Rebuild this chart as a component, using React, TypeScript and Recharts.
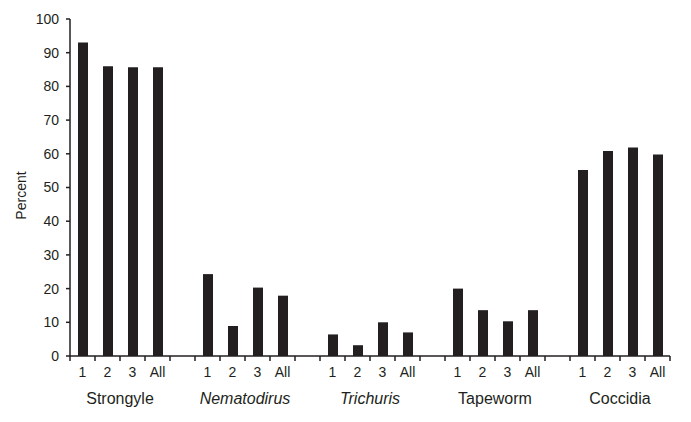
import { Bar, BarChart, XAxis, YAxis } from "recharts";

const groups = ["Strongyle", "Nematodirus", "Trichuris", "Tapeworm", "Coccidia"];
const italicGroups = ["Nematodirus", "Trichuris"];
const subLabels = ["1", "2", "3", "All"];

const strongyle = [93, 86, 85.7, 85.7];
const nematodirus = [24.3, 8.9, 20.3, 17.9];
const trichuris = [6.4, 3.2, 10, 7];
const tapeworm = [20, 13.6, 10.3, 13.6];
const coccidia = [55.2, 60.8, 61.9, 59.8];

const yTicks = [0, 10, 20, 30, 40, 50, 60, 70, 80, 90, 100];

const seriesByGroup = [strongyle, nematodirus, trichuris, tapeworm, coccidia];

type Row = { key: string; sub: string; group: string; value: number | null };

// 4 bars per group, then an empty slot as a spacer (not after the last group)
const rows: Row[] = [];
groups.forEach((g, gi) => {
  subLabels.forEach((s, si) => {
    rows.push({ key: `${g}-${s}`, sub: s, group: g, value: seriesByGroup[gi][si] });
  });
  if (gi < groups.length - 1) {
    rows.push({ key: `gap-${gi}`, sub: "", group: "", value: null });
  }
});

const INK = "#231f20";
const FONT = "'Liberation Sans', Arial, sans-serif";
const WIDTH = 691;
const HEIGHT = 422;
const MARGIN = { top: 19, right: 21, left: 0, bottom: 6 };
const Y_AXIS_W = 70;
const PLOT_W = WIDTH - MARGIN.left - MARGIN.right - Y_AXIS_W;
const SLOT = PLOT_W / rows.length;

function XTick(props: any) {
  const { x, y, index } = props;
  const row = rows[index];
  if (!row) return null;
  const half = SLOT / 2;
  const last = index === rows.length - 1;
  return (
    <g>
      <line x1={x - half} x2={x - half} y1={y} y2={y + 5} stroke={INK} strokeWidth={1.5} />
      {last && <line x1={x + half} x2={x + half} y1={y} y2={y + 5} stroke={INK} strokeWidth={1.5} />}
      <text x={x} y={y + 21} textAnchor="middle" fill={INK} fontSize={14} fontFamily={FONT}>
        {row.sub}
      </text>
      {row.sub === "2" && (
        <text
          x={x + half}
          y={y + 48}
          textAnchor="middle"
          fill={INK}
          fontSize={16}
          fontFamily={FONT}
          fontStyle={italicGroups.includes(row.group) ? "italic" : "normal"}
        >
          {row.group}
        </text>
      )}
    </g>
  );
}

function PercentLabel(props: any) {
  const { viewBox } = props;
  if (!viewBox) return null;
  const cx = viewBox.x + 21;
  const cy = viewBox.y + viewBox.height / 2 + 8;
  return (
    <text
      x={cx}
      y={cy}
      transform={`rotate(-90, ${cx}, ${cy})`}
      textAnchor="middle"
      dominantBaseline="central"
      fill={INK}
      fontSize={14}
      fontFamily={FONT}
    >
      Percent
    </text>
  );
}

export default function App() {
  return (
    <div style={{ position: "absolute", left: 0, top: 0, background: "#fff" }}>
      <BarChart width={WIDTH} height={HEIGHT} data={rows} margin={MARGIN}>
        <XAxis
          dataKey="key"
          height={60}
          interval={0}
          tickLine={false}
          tickSize={0}
          tickMargin={0}
          tick={<XTick />}
          axisLine={{ stroke: INK, strokeWidth: 1.5 }}
        />
        <YAxis
          width={Y_AXIS_W}
          domain={[0, 100]}
          ticks={yTicks}
          interval={0}
          tickSize={4}
          tickMargin={7}
          tickLine={{ stroke: INK, strokeWidth: 1.5 }}
          axisLine={{ stroke: INK, strokeWidth: 1.5 }}
          tick={{ fill: INK, fontSize: 14, fontFamily: FONT }}
          label={<PercentLabel />}
        />
        <Bar dataKey="value" fill={INK} barSize={10} isAnimationActive={false} />
      </BarChart>
    </div>
  );
}
